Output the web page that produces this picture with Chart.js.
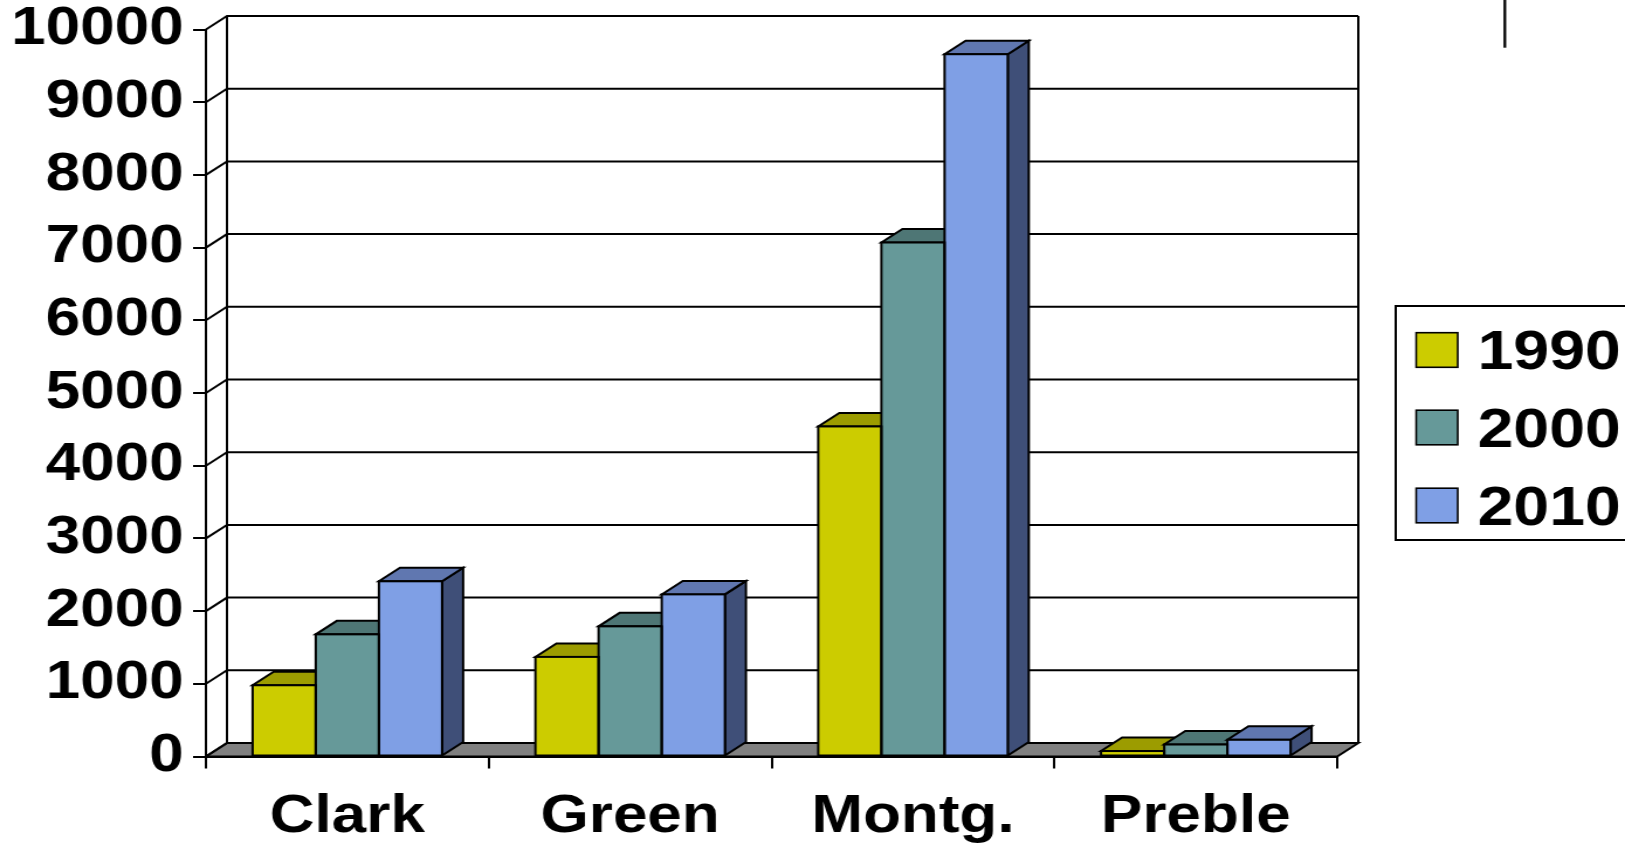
<!DOCTYPE html>
<html>
<head>
<meta charset="utf-8">
<script src="https://cdn.jsdelivr.net/npm/chart.js@4"></script>
<style>
  html, body { margin: 0; padding: 0; background: #fff; overflow: hidden; }
  #wrap { width: 1625px; height: 844px; overflow: hidden; }
  #c { display: block; transform: scaleX(1.16991); transform-origin: 0 0; }
</style>
</head>
<body>
<div id="wrap"><canvas id="c" width="1389" height="844"></canvas></div>
<script>
// County figures by census year
const categories = ['Clark', 'Green', 'Montg.', 'Preble'];
const seriesNames = ['1990', '2000', '2010'];
const values1990 = [980, 1370, 4540, 75];
const values2000 = [1680, 1790, 7070, 165];
const values2010 = [2410, 2230, 9660, 230];
const yTickValues = [0, 1000, 2000, 3000, 4000, 5000, 6000, 7000, 8000, 9000, 10000];

const seriesValues = [values1990, values2000, values2010];

// front / top / side shades of each column
const faceColors = [
  { front: '#CCCC00', top: '#9C9C00', side: '#666600' },
  { front: '#669999', top: '#4E7675', side: '#3A5858' },
  { front: '#7F9FE5', top: '#6077B0', side: '#3F4F78' }
];

const DX = 18;     // depth offset to the right
const DY = 13.5;   // depth offset upwards
const FONT = '"Liberation Sans", Arial, sans-serif';

function poly(ctx, pts, fill) {
  ctx.beginPath();
  ctx.moveTo(pts[0][0], pts[0][1]);
  for (let i = 1; i < pts.length; i++) ctx.lineTo(pts[i][0], pts[i][1]);
  ctx.closePath();
  if (fill) { ctx.fillStyle = fill; ctx.fill(); }
  ctx.stroke();
}

function barBox(el) {
  const p = el.getProps(['x', 'y', 'base', 'width'], true);
  return { l: p.x - p.width / 2, r: p.x + p.width / 2, t: Math.min(p.y, p.base), b: Math.max(p.y, p.base) };
}

const box3d = {
  id: 'box3d',
  // walls, floor and back gridlines
  beforeDraw(chart) {
    const { ctx, chartArea: { left, right, top, bottom }, scales: { y } } = chart;
    ctx.save();
    ctx.strokeStyle = '#000';
    ctx.lineWidth = 2;
    // floor
    poly(ctx, [[left, bottom], [right, bottom], [right + DX, bottom - DY], [left + DX, bottom - DY]], '#808080');
    // gridlines on the side and back walls
    yTickValues.forEach(v => {
      const py = y.getPixelForValue(v);
      ctx.beginPath();
      ctx.moveTo(left, py);
      ctx.lineTo(left + DX, py - DY);
      if (v !== 0) ctx.lineTo(right + DX, py - DY);
      ctx.stroke();
    });
    // back wall verticals
    ctx.beginPath();
    ctx.moveTo(left + DX, top - DY); ctx.lineTo(left + DX, bottom - DY);
    ctx.moveTo(right + DX, top - DY); ctx.lineTo(right + DX, bottom - DY);
    ctx.stroke();
    ctx.restore();
  },
  // side and top faces of the columns
  beforeDatasetsDraw(chart) {
    const { ctx } = chart;
    ctx.save();
    ctx.strokeStyle = '#000';
    ctx.lineWidth = 2;
    ctx.lineJoin = 'miter';
    categories.forEach((c, i) => {
      seriesNames.forEach((s, d) => {
        const el = chart.getDatasetMeta(d).data[i];
        const b = barBox(el);
        poly(ctx, [[b.r, b.t], [b.r + DX, b.t - DY], [b.r + DX, b.b - DY], [b.r, b.b]], faceColors[d].side);
        poly(ctx, [[b.l, b.t], [b.r, b.t], [b.r + DX, b.t - DY], [b.l + DX, b.t - DY]], faceColors[d].top);
      });
    });
    ctx.restore();
  },
  // outlines of the front faces
  afterDatasetsDraw(chart) {
    const { ctx } = chart;
    ctx.save();
    ctx.strokeStyle = '#000';
    ctx.lineWidth = 2;
    categories.forEach((c, i) => {
      seriesNames.forEach((s, d) => {
        const b = barBox(chart.getDatasetMeta(d).data[i]);
        ctx.strokeRect(b.l, b.t, b.r - b.l, b.b - b.t);
      });
    });
    ctx.restore();
  },
  // legend box and the short rule at the top right
  afterDraw(chart) {
    const { ctx } = chart;
    ctx.save();
    ctx.strokeStyle = '#000';
    ctx.lineWidth = 2;
    ctx.strokeRect(1193, 306, 260, 234);
    const rows = [350, 427.5, 505.5];
    chart.data.datasets.forEach((ds, d) => {
      ctx.fillStyle = ds.backgroundColor;
      ctx.lineWidth = 1.6;
      ctx.fillRect(1210.5, rows[d] - 17.3, 35.5, 34.6);
      ctx.strokeRect(1210.5, rows[d] - 17.3, 35.5, 34.6);
      ctx.fillStyle = '#000';
      ctx.font = 'bold 55px ' + FONT;
      ctx.textBaseline = 'middle';
      ctx.textAlign = 'left';
      ctx.fillText(ds.label, 1263, rows[d] + 4);
    });
    ctx.lineWidth = 2.3;
    ctx.beginPath();
    ctx.moveTo(1286.3, 0);
    ctx.lineTo(1286.3, 47.7);
    ctx.stroke();
    ctx.restore();
  }
};

const tickFont = { family: FONT, size: 53, weight: 'bold', lineHeight: 1 };

new Chart(document.getElementById('c'), {
  type: 'bar',
  data: {
    labels: categories,
    datasets: seriesNames.map((name, i) => ({
      label: name,
      data: seriesValues[i],
      backgroundColor: faceColors[i].front,
      borderWidth: 0,
      categoryPercentage: 0.67,
      barPercentage: 1
    }))
  },
  options: {
    responsive: false,
    animation: false,
    events: [],
    devicePixelRatio: 1,
    layout: { padding: { left: 10, top: 29.5, right: 246, bottom: 0 } },
    plugins: { legend: { display: false }, tooltip: { enabled: false } },
    scales: {
      x: {
        offset: true,
        grid: { display: true, drawOnChartArea: false, drawTicks: true, tickLength: 12, color: '#000', lineWidth: 2, offset: true },
        border: { display: true, color: '#000', width: 2 },
        ticks: { font: tickFont, color: '#000', padding: 22.5, maxRotation: 0, autoSkip: false },
        afterFit(s) { s.height = 87.5; s.paddingLeft = 0; s.paddingRight = 0; }
      },
      y: {
        min: 0,
        max: 10000,
        afterBuildTicks(s) { s.ticks = yTickValues.map(v => ({ value: v })); },
        ticks: { font: tickFont, color: '#000', padding: 8, callback: v => String(v) },
        grid: { display: true, drawOnChartArea: false, tickLength: 11, color: '#000', lineWidth: 2 },
        border: { display: true, color: '#000', width: 2 },
        afterFit(s) { s.width = 166; s.paddingTop = 0; s.paddingBottom = 0; }
      }
    }
  },
  plugins: [box3d]
});
</script>
</body>
</html>
